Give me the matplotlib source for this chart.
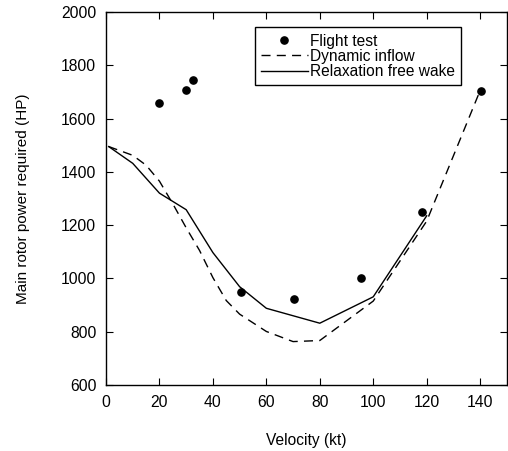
import matplotlib
matplotlib.use("Agg")
import matplotlib.pyplot as plt

plt.rcParams['font.family'] = ['Liberation Sans', 'DejaVu Sans']

# flight test measurements
test_kt = [20, 30, 32.5, 50.5, 70.3, 95.4, 118.2, 140.5]
test_hp = [1659, 1709, 1746, 950, 923, 1003, 1249, 1705]

# dynamic inflow prediction
inflow_kt = [1, 10, 15, 20, 25, 30, 35, 40, 45, 50, 60, 70, 80, 100, 120, 140]
inflow_hp = [1495, 1462, 1425, 1365, 1280, 1190, 1105, 1003, 917, 866, 801, 763, 767, 915, 1215, 1705]

# relaxation free wake prediction
wake_kt = [1, 10, 20, 30, 40, 50, 60, 80, 100, 120]
wake_hp = [1495, 1432, 1320, 1258, 1097, 969, 888, 832, 931, 1235]

fig = plt.figure(figsize=(5.08, 4.51), dpi=100)
ax = fig.add_axes([0.2087, 0.1463, 0.789, 0.8271])

ax.plot(test_kt, test_hp, 'o', color='black', markersize=5.2, label='Flight test')
ax.plot(inflow_kt, inflow_hp, color='black', lw=1.0, dashes=(6.5, 4.5), label='Dynamic inflow')
ax.plot(wake_kt, wake_hp, color='black', lw=1.0, label='Relaxation free wake')

ax.set_xlim(0, 150)
ax.set_ylim(600, 2000)
ax.set_xticks(range(0, 141, 20))
ax.set_yticks(range(600, 2001, 200))
ax.tick_params(direction='in', top=True, right=True, length=5, labelsize=11.3, pad=7)
for s in ax.spines.values():
    s.set_linewidth(1.0)

ax.set_xlabel('Velocity (kt)', fontsize=11.2, labelpad=17)
ax.set_ylabel('Main rotor power required (HP)', fontsize=11, labelpad=22)

leg = ax.legend(loc='upper left', bbox_to_anchor=(0.371, 0.959), fontsize=11.2,
                frameon=True, fancybox=False, edgecolor='black', framealpha=1,
                handlelength=3.0, handletextpad=0.15, labelspacing=0.02,
                borderpad=0.4, borderaxespad=0)
leg.get_frame().set_linewidth(1.0)

fig.savefig('out.png', dpi=100)
